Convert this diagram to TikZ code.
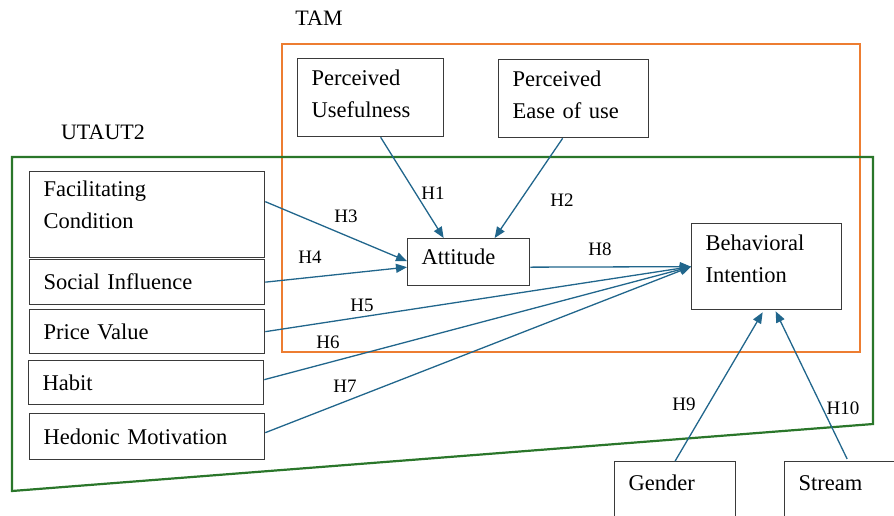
\documentclass[tikz,border=0pt]{standalone}
\usepackage{fontspec}
\setmainfont[WordSpace=0.75]{Liberation Serif}
\usetikzlibrary{arrows.meta}
\definecolor{boxc}{HTML}{3A3A3A}
\definecolor{arrc}{HTML}{21668C}
\definecolor{tamc}{HTML}{ED7D31}
\definecolor{utc}{HTML}{2A762A}
\tikzset{
  box/.style={draw=boxc, line width=1.3pt, anchor=north west, align=left,
    inner xsep=14pt, inner ysep=0pt, font=\fontsize{22.5}{32}\selectfont},
  hyp/.style={draw=arrc, line width=1.3pt, -{Triangle[length=11pt,width=9pt]}},
  hlab/.style={font=\fontsize{19}{22}\selectfont, inner sep=0pt},
  grp/.style={font=\fontsize{22}{26}\selectfont, inner sep=0pt},
}
\begin{document}
\begin{tikzpicture}[x=1pt,y=-1pt]
\useasboundingbox (0,0) rectangle (894,515);
\clip (0,0) rectangle (894,515);
% group frames
\draw[tamc, line width=2.2pt] (282,44) rectangle (860,352);
\draw[utc, line width=2.2pt] (12,157) -- (873,157) -- (873,424) -- (12,491) -- cycle;
\node[grp] (tam) at (319,18) {TAM};
\node[grp] (utaut) at (103,132) {UTAUT2};
% boxes
\node[box, text width=118pt, minimum height=78pt, text depth=40pt] (pu) at (297,58) {Perceived\\Usefulness};
\node[box, text width=122pt, minimum height=78pt, text depth=40pt] (peou) at (498,59) {Perceived\\Ease of use};
\node[box, text width=207pt, minimum height=86pt, text depth=51pt] (fc) at (29,171) {Facilitating\\Condition};
\node[box, text width=207pt, minimum height=45pt] (si) at (29,259) {Social Influence};
\node[box, text width=207pt, minimum height=44pt] (pv) at (29,309) {Price Value};
\node[box, text width=207pt, minimum height=44pt] (hab) at (28,360) {Habit};
\node[box, text width=207pt, minimum height=46pt] (hm) at (29,413) {Hedonic Motivation};
\node[box, text width=94pt, minimum height=47pt, text depth=10pt] (att) at (407,238) {Attitude};
\node[box, text width=122pt, minimum height=86pt, text depth=47pt] (bi) at (691,223) {Behavioral\\Intention};
\node[box, text width=93pt, text height=29pt, text depth=40pt] (gen) at (614,461) {Gender};
\node[box, text width=98pt, text height=29pt, text depth=40pt] (str) at (784,461) {Stream};
% hypotheses
\draw[hyp] ([xshift=10pt]pu.south) -- ([xshift=-25pt]att.north);
\draw[hyp] ([xshift=-11pt]peou.south) -- ([xshift=26pt]att.north);
\draw[hyp] ([yshift=13pt]fc.east) -- ([yshift=1pt]att.west);
\draw[hyp] (si.east) -- ([yshift=-5pt]att.west);
\draw[hyp] ([yshift=-5pt]att.east) -- (bi.west);
\draw[hyp] (pv.east) -- (bi.west);
\draw[hyp] ([yshift=3pt]hab.east) -- (bi.west);
\draw[hyp] ([yshift=4pt]hm.east) -- (bi.west);
\draw[hyp] (gen.north) -- ([xshift=-4pt,yshift=-2pt]bi.south);
\draw[hyp] ([xshift=-0.5pt,yshift=2pt]str.north) -- ([xshift=9pt,yshift=-1pt]bi.south);
% labels
\node[hlab] (h1) at (433,193) {H1};
\node[hlab] (h2) at (562,200) {H2};
\node[hlab] (h3) at (346,216) {H3};
\node[hlab] (h4) at (310,257) {H4};
\node[hlab] (h8) at (600,249) {H8};
\node[hlab] (h5) at (362,305) {H5};
\node[hlab] (h6) at (328,342) {H6};
\node[hlab] (h7) at (345,386) {H7};
\node[hlab] (h9) at (684,404) {H9};
\node[hlab] (h10) at (843,408) {H10};
\end{tikzpicture}
\end{document}
